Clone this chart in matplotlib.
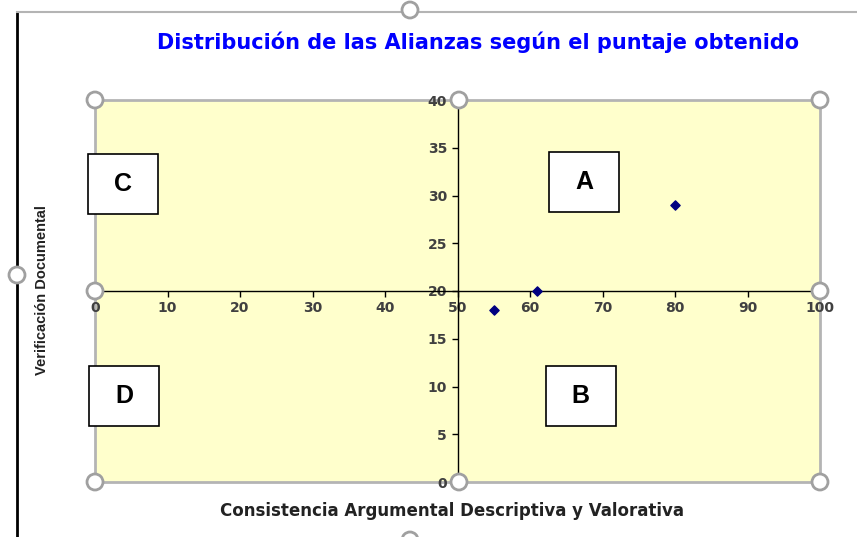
import matplotlib.pyplot as plt
from matplotlib.patches import Rectangle, Circle

# data
x_vals = [55, 61, 80]
y_vals = [18, 20, 29]
x_ticks = [0, 10, 20, 30, 40, 50, 60, 70, 80, 90, 100]
y_ticks = [0, 5, 10, 15, 20, 25, 30, 35, 40]
quadrants = ['C', 'A', 'D', 'B']

plt.rcParams['font.family'] = ['DejaVu Sans']

fig = plt.figure(figsize=(8.57, 5.37), dpi=100)
ax = fig.add_axes([95 / 857, 55 / 537, 725 / 857, 382 / 537])
ax.set_facecolor('#ffffcc')
ax.set_xlim(0, 100)
ax.set_ylim(0, 40)

# axes cross at (50, 20)
ax.spines['left'].set_position(('data', 50))
ax.spines['bottom'].set_position(('data', 20))
ax.spines['right'].set_visible(False)
ax.spines['top'].set_visible(False)
for s in ('left', 'bottom'):
    ax.spines[s].set_color('black')
    ax.spines[s].set_linewidth(1.0)
ax.set_xticks(x_ticks)
ax.set_yticks(y_ticks)
ax.tick_params(direction='out', length=4, width=1, colors='black',
               labelcolor='#404040', labelsize=10)
for lbl in ax.get_xticklabels() + ax.get_yticklabels():
    lbl.set_fontweight('bold')

# plot area border
ax.add_patch(Rectangle((0, 0), 1, 1, transform=ax.transAxes, fill=False,
                       edgecolor='#b4b4b4', linewidth=2, zorder=1, clip_on=False))

ax.scatter(x_vals, y_vals, marker='D', s=22, color='#000080', zorder=5)

# quadrant label boxes (axes coords of centres)
box_pos = [(0.039, 0.78), (0.675, 0.785), (0.04, 0.226), (0.67, 0.225)]
bw, bh = 70 / 725, 60 / 382
for lab, (cx, cy) in zip(quadrants, box_pos):
    ax.add_patch(Rectangle((cx - bw / 2, cy - bh / 2), bw, bh, transform=ax.transAxes,
                           facecolor='white', edgecolor='black', linewidth=1.2,
                           zorder=6, clip_on=False))
    ax.text(cx, cy, lab, transform=ax.transAxes, ha='center', va='center',
            fontsize=18, fontweight='bold', zorder=7,
            family=['Liberation Sans', 'DejaVu Sans'])

fig.text(478 / 857, 1 - 42 / 537, 'Distribución de las Alianzas según el puntaje obtenido',
         ha='center', va='center', color='#0000ff', fontsize=15, fontweight='bold')
fig.text(452 / 857, 1 - 511 / 537, 'Consistencia Argumental Descriptiva y Valorativa',
         ha='center', va='center', color='#222222', fontsize=12, fontweight='bold')
fig.text(42 / 857, 1 - 290 / 537, 'Verificación Documental', rotation=90,
         ha='center', va='center', color='#222222', fontsize=10.5, fontweight='bold',
         family=['Liberation Sans Narrow', 'Liberation Sans'])

# chart frame edges visible in the screenshot
fig.add_artist(plt.Line2D([17 / 857, 17 / 857], [0, 1 - 12 / 537], color='black', lw=2))
fig.add_artist(plt.Line2D([17 / 857, 1], [1 - 12 / 537, 1 - 12 / 537], color='#b4b4b4', lw=1.5))

# selection handles
handles = [(95, 100), (459, 100), (820, 100), (95, 291), (820, 291),
           (95, 482), (459, 482), (820, 482), (17, 275), (410, 10), (410, 540)]
for hx, hy in handles:
    fig.add_artist(Circle((hx, 537 - hy), 8, transform=None, facecolor='white',
                          edgecolor='#a0a0a0', linewidth=2, zorder=10))

fig.savefig('out.png', dpi=100)
